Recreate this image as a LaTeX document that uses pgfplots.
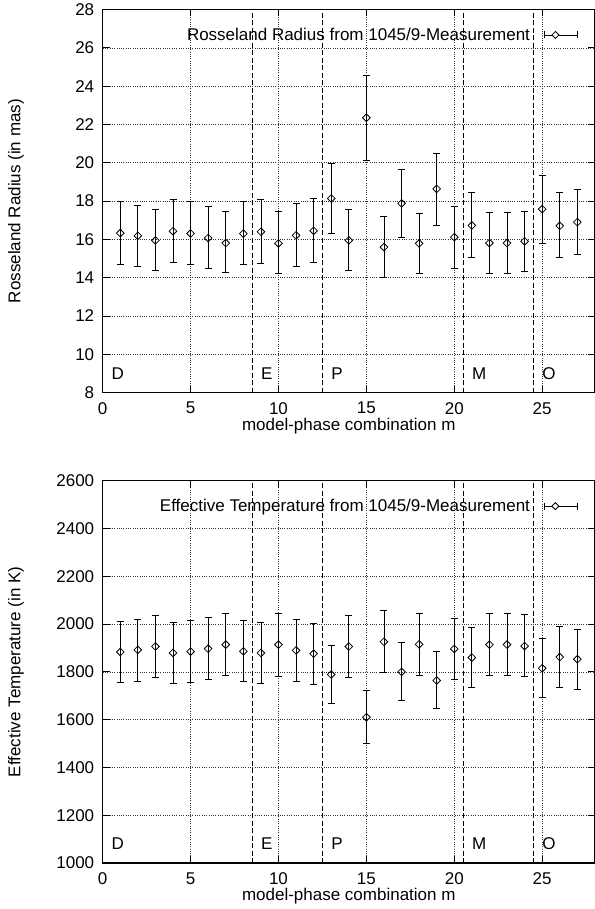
\documentclass[border=0pt]{standalone}
\usepackage{fontspec}
\setmainfont{Liberation Sans}
\usepackage{pgfplots}
\usepackage{pgfplotstable}
\pgfplotsset{compat=1.18}

% m, value, lower end, upper end of the error bar
\pgfplotstableread{
m  y     lo    hi
1  16.33 14.71 17.97
2  16.19 14.57 17.79
3  15.95 14.37 17.55
4  16.43 14.80 18.10
5  16.31 14.70 18.00
6  16.07 14.47 17.70
7  15.81 14.26 17.46
8  16.30 14.68 17.98
9  16.40 14.77 18.07
10 15.79 14.24 17.46
11 16.21 14.60 17.86
12 16.45 14.82 18.16
13 18.14 16.30 19.97
14 15.95 14.37 17.58
15 22.35 20.10 24.57
16 15.60 14.03 17.18
17 17.88 16.09 19.67
18 15.79 14.21 17.36
19 18.64 16.75 20.49
20 16.12 14.50 17.72
21 16.73 15.08 18.43
22 15.81 14.24 17.39
23 15.81 14.24 17.39
24 15.90 14.33 17.48
25 17.58 15.81 19.36
26 16.71 15.06 18.43
27 16.90 15.23 18.61
}\radius

\pgfplotstableread{
m  y    lo   hi
1  1883 1756 2011
2  1892 1762 2021
3  1906 1776 2037
4  1879 1751 2007
5  1885 1757 2014
6  1897 1769 2029
7  1914 1785 2044
8  1886 1758 2015
9  1879 1751 2007
10 1914 1783 2044
11 1890 1761 2019
12 1876 1749 2003
13 1789 1668 1910
14 1906 1776 2036
15 1610 1501 1721
16 1926 1796 2057
17 1800 1679 1924
18 1915 1786 2046
19 1764 1646 1885
20 1896 1767 2025
21 1860 1733 1986
22 1914 1785 2044
23 1914 1785 2044
24 1908 1779 2039
25 1815 1692 1939
26 1862 1736 1990
27 1853 1728 1978
}\teff

\tikzset{sepline/.style={black, line width=0.8pt, dash pattern=on 5pt off 2.5pt}}

\pgfplotsset{
  gnu/.style={
    scale only axis,
    width=492.2pt,
    xmin=0, xmax=28,
    xtick={0,5,...,25},
    tick pos=both,
    tick align=inside,
    major tick length=7pt,
    every tick/.style={black, line width=0.8pt},
    axis line style={line width=1.4pt},
    grid=major,
    major grid style={black!80, line width=0.6pt, dash pattern=on 0.7pt off 1.6pt},
    font=\fontsize{17}{20}\selectfont,
    /pgf/number format/assume math mode=true,
    /pgf/number format/1000 sep={},
    scaled ticks=false,
    xticklabel style={yshift=-6pt},
    yticklabel style={xshift=-5pt},
    xlabel={model-phase combination m},
    every axis x label/.style={at={(axis description cs:0.5,-0.087)}, anchor=center},
    every axis y label/.style={at={(axis description cs:-0.176,0.5)}, anchor=center, rotate=90},
    legend plot pos=right,
    legend cell align=right,
    legend style={draw=none, fill=none, anchor=east, inner sep=0pt, column sep=12pt},
    legend image code/.code={
      \draw[black, line width=0.8pt] (0pt,0pt) -- (33pt,0pt)
        (0pt,-3.5pt) -- (0pt,3.5pt) (33pt,-3.5pt) -- (33pt,3.5pt);
      \draw[black, fill=white, line width=0.8pt] (11pt,0pt) +(-3.5pt,0pt) -- +(0pt,3.5pt) -- +(3.5pt,0pt) -- +(0pt,-3.5pt) -- cycle;
    },
  },
  bars/.style={
    black, line width=0.8pt,
    mark=square, mark size=2.7pt,
    mark options={rotate=45, fill=white, solid},
    only marks,
    error bars/.cd, y dir=both, y explicit,
    error mark=-,
    error bar style={black, line width=0.8pt},
    error mark options={black, line width=0.8pt, mark size=3.5pt, rotate=90},
  },
}

\begin{document}
\begin{tikzpicture}
\useasboundingbox (0pt,0pt) rectangle (594pt,-909pt);

\begin{axis}[gnu,
  at={(102.7pt,-392.7pt)}, anchor=south west,
  height=383.2pt,
  ymin=8, ymax=28,
  ytick={8,10,...,28},
  ylabel={Rosseland Radius (in mas)},
  legend style={at={(0.9657,0.9335)}},
]
\addplot+[bars] table[x=m, y=y,
  y error plus expr=\thisrow{hi}-\thisrow{y},
  y error minus expr=\thisrow{y}-\thisrow{lo}] {\radius};
\addlegendentry{Rosseland Radius from 1045/9-Measurement}
\draw[sepline] (axis cs:8.5,8) -- (axis cs:8.5,28);
\draw[sepline] (axis cs:12.5,8) -- (axis cs:12.5,28);
\draw[sepline] (axis cs:20.5,8) -- (axis cs:20.5,28);
\draw[sepline] (axis cs:24.5,8) -- (axis cs:24.5,28);
\node[anchor=west, inner sep=0pt] at (axis cs:0.5,9) {D};
\node[anchor=west, inner sep=0pt] at (axis cs:9,9) {E};
\node[anchor=west, inner sep=0pt] at (axis cs:13,9) {P};
\node[anchor=west, inner sep=0pt] at (axis cs:21,9) {M};
\node[anchor=west, inner sep=0pt] at (axis cs:25,9) {O};
\end{axis}

\begin{axis}[gnu,
  at={(102.7pt,-863pt)}, anchor=south west,
  height=382.3pt,
  ymin=1000, ymax=2600,
  ytick={1000,1200,...,2600},
  ylabel={Effective Temperature (in K)},
  legend style={at={(0.9657,0.9335)}},
]
\addplot+[bars] table[x=m, y=y,
  y error plus expr=\thisrow{hi}-\thisrow{y},
  y error minus expr=\thisrow{y}-\thisrow{lo}] {\teff};
\addlegendentry{Effective Temperature from 1045/9-Measurement}
\draw[sepline] (axis cs:8.5,1000) -- (axis cs:8.5,2600);
\draw[sepline] (axis cs:12.5,1000) -- (axis cs:12.5,2600);
\draw[sepline] (axis cs:20.5,1000) -- (axis cs:20.5,2600);
\draw[sepline] (axis cs:24.5,1000) -- (axis cs:24.5,2600);
\node[anchor=west, inner sep=0pt] at (axis cs:0.5,1080) {D};
\node[anchor=west, inner sep=0pt] at (axis cs:9,1080) {E};
\node[anchor=west, inner sep=0pt] at (axis cs:13,1080) {P};
\node[anchor=west, inner sep=0pt] at (axis cs:21,1080) {M};
\node[anchor=west, inner sep=0pt] at (axis cs:25,1080) {O};
\end{axis}
\end{tikzpicture}
\end{document}
